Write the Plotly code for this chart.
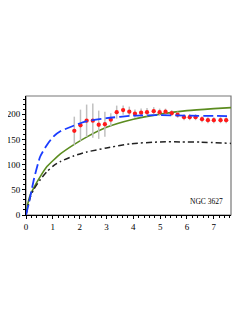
import plotly.graph_objects as go

# Observed rotation curve (NGC 3627)
obs_r = [1.80, 2.03, 2.26, 2.49, 2.71, 2.94, 3.16, 3.38, 3.62, 3.85, 4.06, 4.29, 4.51, 4.76,
         4.98, 5.20, 5.43, 5.65, 5.89, 6.10, 6.32, 6.56, 6.78, 7.00, 7.25, 7.46]
obs_v = [167, 178, 187, 187, 179, 180, 189, 204, 208, 205, 201, 203, 204, 206,
         204, 205, 202, 199, 194, 194, 194, 190, 188, 188, 188, 188]
obs_err = [28, 31, 32, 34, 28, 25, 13, 13, 9, 10, 8, 8, 8, 8,
           7, 6, 6, 6, 6, 6, 6, 6, 6, 6, 6, 6]

# Model curves
blue_r = [0, 0.1, 0.2, 0.3, 0.53, 0.78, 1.03, 1.28, 1.77, 2.27, 3.0, 4.0, 5.0, 6.0, 7.0, 7.64]
blue_v = [0, 22, 47, 72, 116, 139, 156, 166, 177, 186, 192, 197, 198, 197, 196.5, 196]

green_r = [0, 0.05, 0.16, 0.28, 0.53, 0.78, 1.03, 1.28, 1.77, 2.27, 3.0, 4.0, 5.0, 6.0, 7.0, 7.64]
green_v = [0, 18, 40, 53, 76, 96, 109, 121, 139, 155, 174, 190, 200, 207, 211, 213]

black_r = [0, 0.16, 0.28, 0.53, 0.78, 1.03, 1.28, 1.77, 2.27, 3.0, 3.88, 5.0, 5.74, 6.5, 7.64]
black_v = [0, 35, 50, 70, 86, 98, 106, 117, 125, 133, 141, 145, 145, 144.5, 142]

label = "NGC 3627"

fig = go.Figure()
fig.add_trace(go.Scatter(x=green_r, y=green_v, mode="lines",
                         line=dict(color="#5b8c1f", width=1.6, shape="spline", smoothing=0.6)))
fig.add_trace(go.Scatter(x=black_r, y=black_v, mode="lines",
                         line=dict(color="#222222", width=1.5, dash="6px,3px,2px,3px",
                                   shape="spline", smoothing=0.6)))
fig.add_trace(go.Scatter(x=obs_r, y=obs_v, mode="markers",
                         marker=dict(color="#ff1a1a", size=4.3),
                         error_y=dict(type="data", array=obs_err, color="#c0c0c0",
                                      thickness=1.5, width=0)))
fig.add_trace(go.Scatter(x=blue_r, y=blue_v, mode="lines",
                         line=dict(color="#1a3cff", width=1.8, dash="10px,4px",
                                   shape="spline", smoothing=0.6)))

fig.add_shape(type="rect", xref="paper", yref="paper", x0=0, x1=1, y0=0, y1=1,
              line=dict(color="#777777", width=1.2), layer="below")

fig.add_annotation(text=label, x=7.40, y=26, xref="x", yref="y", xanchor="right",
                   yanchor="middle", showarrow=False,
                   font=dict(family="Liberation Serif", size=7.5, color="black"))

# page body has an 8px default margin, so the figure is sized to compensate
fig.update_layout(
    width=241, height=315,
    margin=dict(l=18, r=18, t=88, b=108, autoexpand=False),
    plot_bgcolor="white", paper_bgcolor="white",
    showlegend=False,
    font=dict(family="Liberation Serif", size=9, color="black"),
)
fig.update_xaxes(range=[0, 7.64], tickvals=[0, 1, 2, 3, 4, 5, 6, 7], automargin=False,
                 showgrid=False, zeroline=False, showline=True, linecolor="black",
                 linewidth=1, ticks="outside", ticklen=3, tickcolor="black",
                 minor=dict(dtick=0.2, ticks="outside", ticklen=2, tickcolor="black"))
fig.update_yaxes(range=[0, 236], tickvals=[0, 50, 100, 150, 200], automargin=False,
                 showgrid=False, zeroline=False, showline=True, linecolor="black",
                 linewidth=1, ticks="outside", ticklen=3, tickcolor="black",
                 minor=dict(dtick=10, ticks="outside", ticklen=2, tickcolor="black"))

fig.write_html("out.html")
